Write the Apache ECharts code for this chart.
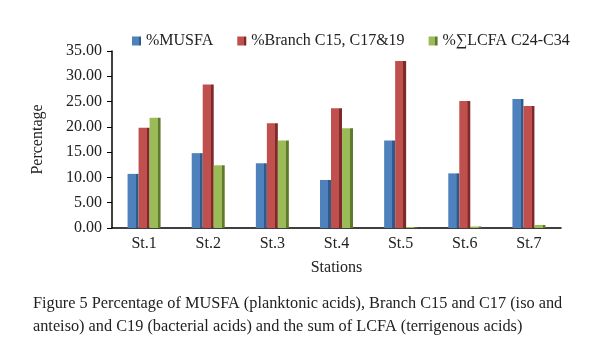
<!DOCTYPE html>
<html>
<head>
<meta charset="utf-8">
<script src="https://cdn.jsdelivr.net/npm/echarts@6/dist/echarts.min.js"></script>
<style>
    html, body { margin: 0; padding: 0; background: #fff; }
    #chart { width: 600px; height: 353px; }
</style>
</head>
<body>
<div id="chart"></div>
<script>
    // stations and the three fatty acid groups (%)
    var stations = ['St.1', 'St.2', 'St.3', 'St.4', 'St.5', 'St.6', 'St.7'];
    var musfa = [10.7, 14.8, 12.8, 9.5, 17.3, 10.8, 25.5];
    var branch = [19.8, 28.4, 20.7, 23.7, 33.0, 25.1, 24.1];
    var lcfa = [21.8, 12.4, 17.3, 19.7, 0.2, 0.3, 0.6];
    var seriesNames = ['%MUSFA', '%Branch C15, C17&19', '%\u2211LCFA C24-C34'];

    var serif = '"Liberation Serif", "Times New Roman", serif';

    // fake the 3D look with a darker strip on the right of each bar
    function shade(main, side) {
        return new echarts.graphic.LinearGradient(0, 0, 1, 0, [
            {offset: 0, color: main},
            {offset: 0.74, color: main},
            {offset: 0.76, color: side},
            {offset: 1, color: side}
        ]);
    }

    var myChart = echarts.init(document.getElementById('chart'));
    var option = {
        animation: false,
        color: ['#4F81BD', '#C0504D', '#9BBB59'],
        title: {
            text: 'Figure 5 Percentage of MUSFA (planktonic acids), Branch C15 and C17 (iso and\nanteiso) and C19 (bacterial acids) and the sum of LCFA (terrigenous acids)',
            left: 28,
            top: 287,
            textStyle: {
                fontFamily: serif,
                fontSize: 16.3,
                fontWeight: 'normal',
                color: '#222',
                lineHeight: 23
            }
        },
        legend: {
            top: 28,
            left: 127,
            itemWidth: 9,
            itemHeight: 9,
            itemGap: 24,
            icon: 'rect',
            textStyle: {fontFamily: serif, fontSize: 16, color: '#222'},
            data: seriesNames
        },
        grid: {left: 112, right: 39, top: 51, bottom: 125},
        xAxis: {
            type: 'category',
            data: stations,
            name: 'Stations',
            nameLocation: 'middle',
            nameGap: 32,
            nameTextStyle: {fontFamily: serif, fontSize: 16, color: '#222'},
            axisLine: {lineStyle: {color: '#000', width: 1.5}},
            axisTick: {show: false},
            axisLabel: {fontFamily: serif, fontSize: 16, color: '#222', margin: 8}
        },
        yAxis: {
            type: 'value',
            min: 0,
            max: 35,
            interval: 5,
            name: 'Percentage',
            nameLocation: 'middle',
            nameGap: 66,
            nameRotate: 90,
            nameTextStyle: {fontFamily: serif, fontSize: 16, color: '#222'},
            axisLine: {show: true, lineStyle: {color: '#000', width: 1.5}},
            axisTick: {show: true, length: 5, lineStyle: {color: '#000'}},
            splitLine: {show: false},
            axisLabel: {
                fontFamily: serif, fontSize: 16, color: '#222', margin: 10,
                formatter: function (v) { return v.toFixed(2); }
            }
        },
        series: [
            {
                name: seriesNames[0], type: 'bar', data: musfa,
                barWidth: 11, barGap: '0%',
                itemStyle: {color: shade('#4F81BD', '#2f5a8c')}
            },
            {
                name: seriesNames[1], type: 'bar', data: branch,
                barWidth: 11, barGap: '0%',
                itemStyle: {color: shade('#C0504D', '#7e2a28')}
            },
            {
                name: seriesNames[2], type: 'bar', data: lcfa,
                barWidth: 11, barGap: '0%',
                itemStyle: {color: shade('#9BBB59', '#5f7a2c')}
            }
        ]
    };
    myChart.setOption(option);
</script>
</body>
</html>
